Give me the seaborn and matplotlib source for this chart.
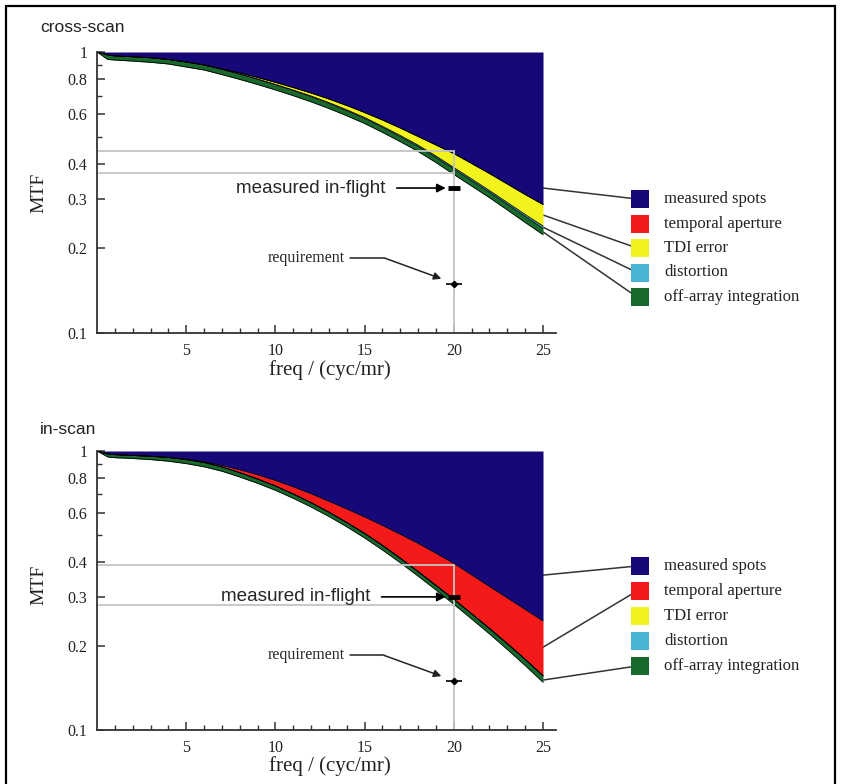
import matplotlib
matplotlib.use("Agg")
import matplotlib.pyplot as plt
import seaborn as sns
import pandas as pd
from matplotlib.patches import Rectangle
from matplotlib.ticker import NullFormatter

# ---------------- data ----------------
freq = [0, 0.6, 1, 2, 3, 4, 5, 6, 7, 8, 9, 10, 11, 12, 13, 14, 15, 16, 17, 18, 19, 20, 21, 22, 23, 24, 25]

# cross-scan: cumulative MTF after each contribution
cross_measured   = [1.0, 0.9757, 0.9677, 0.9614, 0.9536, 0.9404, 0.9213, 0.8989, 0.8713, 0.8419, 0.8114, 0.7800, 0.7474, 0.7145,
                    0.6804, 0.6450, 0.6091, 0.5728, 0.5364, 0.5004, 0.4668, 0.4352, 0.4011, 0.3695, 0.3391, 0.3111, 0.2867]
cross_temporal   = [1.0, 0.9757, 0.9677, 0.9614, 0.9536, 0.9404, 0.9213, 0.8989, 0.8713, 0.8419, 0.8114, 0.7800, 0.7474, 0.7145,
                    0.6804, 0.6450, 0.6091, 0.5728, 0.5364, 0.5004, 0.4668, 0.4352, 0.4011, 0.3695, 0.3391, 0.3111, 0.2867]
cross_tdi        = [1.0, 0.9757, 0.9677, 0.9614, 0.9536, 0.9404, 0.9213, 0.8989, 0.8679, 0.8350, 0.8015, 0.7673, 0.7323, 0.6974,
                    0.6605, 0.6227, 0.5847, 0.5439, 0.5045, 0.4660, 0.4264, 0.3880, 0.3532, 0.3213, 0.2913, 0.2640, 0.2403]
cross_distortion = [1.0, 0.9757, 0.9677, 0.9614, 0.9536, 0.9404, 0.9213, 0.8989, 0.8658, 0.8323, 0.7982, 0.7636, 0.7281, 0.6928,
                    0.6557, 0.6177, 0.5799, 0.5390, 0.4996, 0.4611, 0.4215, 0.3833, 0.3486, 0.3170, 0.2871, 0.2598, 0.2360]
cross_total      = [1.0, 0.9404, 0.9366, 0.9282, 0.9191, 0.9064, 0.8843, 0.8629, 0.8310, 0.7989, 0.7661, 0.7329, 0.6991, 0.6647,
                    0.6294, 0.5929, 0.5566, 0.5175, 0.4796, 0.4424, 0.4041, 0.3665, 0.3333, 0.3030, 0.2740, 0.2473, 0.2238]

# in-scan
in_measured   = [1.0, 0.9755, 0.9699, 0.9635, 0.9572, 0.9478, 0.9361, 0.9147, 0.8872, 0.8561, 0.8217, 0.7837, 0.7440, 0.7025,
                 0.6602, 0.6196, 0.5800, 0.5407, 0.5029, 0.4662, 0.4298, 0.3953, 0.3594, 0.3267, 0.2972, 0.2703, 0.2459]
in_temporal   = [1.0, 0.9755, 0.9699, 0.9635, 0.9572, 0.9478, 0.9315, 0.9095, 0.8770, 0.8360, 0.7935, 0.7489, 0.7013, 0.6526,
                 0.6034, 0.5542, 0.5066, 0.4589, 0.4128, 0.3696, 0.3297, 0.2940, 0.2609, 0.2311, 0.2039, 0.1792, 0.1565]
in_tdi        = [1.0, 0.9755, 0.9699, 0.9635, 0.9572, 0.9478, 0.9315, 0.9095, 0.8770, 0.8360, 0.7935, 0.7489, 0.7013, 0.6526,
                 0.6034, 0.5542, 0.5066, 0.4589, 0.4128, 0.3696, 0.3297, 0.2940, 0.2609, 0.2311, 0.2039, 0.1792, 0.1565]
in_distortion = [1.0, 0.9755, 0.9699, 0.9635, 0.9572, 0.9478, 0.9315, 0.9095, 0.8770, 0.8360, 0.7935, 0.7489, 0.7013, 0.6526,
                 0.6034, 0.5542, 0.5066, 0.4589, 0.4128, 0.3696, 0.3297, 0.2940, 0.2609, 0.2311, 0.2039, 0.1792, 0.1565]
in_total      = [1.0, 0.9517, 0.9462, 0.9400, 0.9315, 0.9193, 0.9012, 0.8777, 0.8464, 0.8069, 0.7659, 0.7228, 0.6769, 0.6299,
                 0.5824, 0.5349, 0.4878, 0.4416, 0.3976, 0.3559, 0.3175, 0.2822, 0.2499, 0.2209, 0.1943, 0.1702, 0.1482]

ref_freq = 20
cross_ref_lines = [0.444, 0.371]
in_ref_lines = [0.39, 0.281]
cross_inflight = 0.328
in_inflight = 0.30
requirement = 0.15

legend_labels = ["measured spots", "temporal aperture", "TDI error", "distortion", "off-array integration"]
legend_colors = ["#170879", "#f51a1a", "#f2f21c", "#45b5d1", "#186a2c"]
# leader anchors at freq=25 (None = no leader)
cross_leaders = [0.328, None, 0.263, 0.238, 0.229]
in_leaders = [0.359, 0.198, None, None, 0.151]

x_major = [5, 10, 15, 20, 25]
x_minor = list(range(1, 26))
y_major = [0.1, 0.2, 0.3, 0.4, 0.6, 0.8, 1.0]
y_labels = ["0.1", "0.2", "0.3", "0.4", "0.6", "0.8", "1"]
y_minor = [0.5, 0.7, 0.9]

# ---------------- style ----------------
sns.set_style("ticks")
SERIF = ["Liberation Serif", "DejaVu Serif"]
SANS = ["Liberation Sans", "DejaVu Sans"]
plt.rcParams["font.family"] = SERIF

W, H = 841, 784
fig = plt.figure(figsize=(W / 100, H / 100), dpi=100)


def fx(px):
    return px / W


def fy(py):
    return 1 - py / H


def panel(ax_rect_px, title, title_py, bounds, ref_lines, inflight, inflight_text_x,
          leaders, legend_rows_py, ylabel_y):
    left, top, right, bottom = ax_rect_px
    ax = fig.add_axes([fx(left), fy(bottom), (right - left) / W, (bottom - top) / H])
    ax.set_yscale("log")
    ax.set_xlim(0, 25.7)
    ax.set_ylim(0.1, 1.0)

    df = pd.DataFrame({"freq": freq})
    names = ["measured", "temporal", "tdi", "distortion", "total"]
    for n, b in zip(names, bounds):
        df[n] = b

    # fills
    upper = [1.0] * len(freq)
    layers = [upper] + list(bounds)
    for i, col in enumerate(legend_colors):
        ax.fill_between(df["freq"], layers[i], layers[i + 1], color=col, lw=0, zorder=2)
    for n in names:
        sns.lineplot(data=df, x="freq", y=n, ax=ax, color="black", lw=0.6,
                     estimator=None, sort=False, zorder=3)

    # reference grey lines
    for v in ref_lines:
        ax.plot([0, ref_freq], [v, v], color="#c4c4c4", lw=1.3, zorder=4)
    ax.plot([ref_freq, ref_freq], [0.1, max(ref_lines)], color="#c4c4c4", lw=1.3, zorder=4)

    # measured in-flight
    ax.plot([ref_freq], [inflight], marker="_", ms=9, mew=3.5, color="black", zorder=6)
    ax.text(inflight_text_x, inflight, "measured in-flight", ha="right", va="center",
            fontsize=13.6, family=SANS, zorder=6)
    ax.annotate("", xy=(19.55, inflight), xytext=(inflight_text_x + 0.65, inflight),
                arrowprops=dict(arrowstyle="-|>", color="black", lw=1.2,
                                shrinkA=0, shrinkB=0, mutation_scale=13), zorder=6)

    # requirement
    ax.plot([ref_freq], [requirement], marker="_", ms=11, mew=1.2, color="black", zorder=6)
    ax.plot([ref_freq], [requirement], marker="D", ms=3.2, color="black", zorder=6)
    ax.text(13.9, 0.185, "requirement", ha="right", va="center", fontsize=11.5, zorder=6)
    ax.plot([14.2, 16.1], [0.185, 0.185], color="#222222", lw=1.1, zorder=6)
    ax.annotate("", xy=(19.3, 0.156), xytext=(16.1, 0.185),
                arrowprops=dict(arrowstyle="-|>", color="#222222", lw=1.1,
                                shrinkA=0, shrinkB=0, mutation_scale=11), zorder=6)

    # axes styling
    for s in ["top", "right"]:
        ax.spines[s].set_visible(False)
    for s in ["left", "bottom"]:
        ax.spines[s].set_linewidth(1.3)
        ax.spines[s].set_color("#333333")
        ax.spines[s].set_zorder(7)
    ax.set_xticks(x_major)
    ax.set_xticklabels([str(v) for v in x_major])
    ax.set_xticks(x_minor, minor=True)
    ax.set_yticks(y_major)
    ax.set_yticklabels(y_labels)
    ax.set_yticks(y_minor, minor=True)
    ax.yaxis.set_minor_formatter(NullFormatter())
    ax.tick_params(axis="both", which="both", direction="in", colors="#333333",
                   labelcolor="#222222")
    ax.tick_params(axis="both", which="major", length=6, width=1.1, labelsize=11.5)
    ax.tick_params(axis="both", which="minor", length=3.5, width=1.0)
    ax.tick_params(axis="y", which="major", pad=7)
    ax.tick_params(axis="x", which="major", pad=7)
    ax.set_xlabel("freq / (cyc/mr)", fontsize=15, color="#222222")
    ax.set_ylabel("MTF", fontsize=14, color="#222222")
    ax.xaxis.set_label_coords(0.507, -0.095)
    ax.yaxis.set_label_coords(-0.108, ylabel_y)
    ax.set_facecolor("white")

    # title
    fig.text(fx(40), fy(title_py), title, ha="left", va="center", fontsize=12.5,
             family=SANS, color="#222222")

    # legend + leaders
    sq = 18
    for i, (lab, col) in enumerate(zip(legend_labels, legend_colors)):
        cy = legend_rows_py[i]
        if leaders[i] is not None:
            ax.annotate("", xy=(fx(637), fy(cy)), xycoords="figure fraction",
                        xytext=(25, leaders[i]), textcoords="data",
                        arrowprops=dict(arrowstyle="-", color="#333333", lw=1.1,
                                        shrinkA=0, shrinkB=0), zorder=1,
                        annotation_clip=False)
        fig.add_artist(Rectangle((fx(631), fy(cy + sq / 2)), sq / W, sq / H,
                                 transform=fig.transFigure, facecolor=col,
                                 edgecolor="none", zorder=5))
        fig.text(fx(664), fy(cy), lab, ha="left", va="center", fontsize=12,
                 color="#222222")
    return ax


panel((97, 52, 555.5, 333), "cross-scan", 28,
      [cross_measured, cross_temporal, cross_tdi, cross_distortion, cross_total],
      cross_ref_lines, cross_inflight, 16.15, cross_leaders,
      [199, 223.5, 248, 272.5, 297], 0.5)

panel((97, 451, 555.5, 730), "in-scan", 429,
      [in_measured, in_temporal, in_tdi, in_distortion, in_total],
      in_ref_lines, in_inflight, 15.3, in_leaders,
      [566, 591, 616, 641, 666], 0.52)

# outer frame
fig.add_artist(Rectangle((fx(6), -0.05), (835 - 6) / W, fy(6) + 0.05,
                         transform=fig.transFigure, fill=False,
                         edgecolor="black", lw=1.6, zorder=10))

fig.savefig("out.png", dpi=100)
